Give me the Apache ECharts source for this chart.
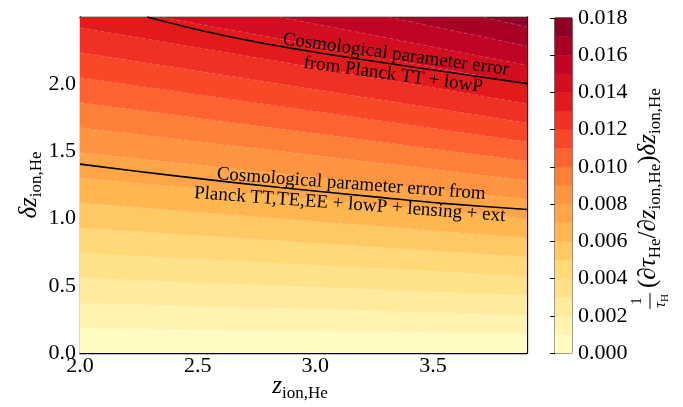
<!DOCTYPE html>
<html><head><meta charset="utf-8">
<script src="https://cdn.jsdelivr.net/npm/echarts@6/dist/echarts.min.js"></script>
<style>html,body{margin:0;padding:0;background:#fff}#c{width:683px;height:407px}</style>
</head><body><div id="c"></div>
<script>
// ---- data ----
const levelValues = [0.000,0.001,0.002,0.003,0.004,0.005,0.006,0.007,0.008,0.009,0.010,0.011,0.012,0.013,0.014,0.015,0.016,0.017,0.018];
const zEdges = [2.0, 3.9];
// dz_ion,He where each contour level crosses z = 2.0 and z = 3.9
const boundaryDzAtZ2  = [0, 0.186, 0.372, 0.558, 0.743, 0.931, 1.117, 1.302, 1.490, 1.676, 1.862, 2.048, 2.235, 2.420, 2.610, 2.790, 2.980, 3.160, 3.350];
const boundaryDzAtZ39 = [0, 0.143, 0.285, 0.428, 0.571, 0.714, 0.856, 0.999, 1.142, 1.284, 1.427, 1.570, 1.712, 1.855, 1.998, 2.141, 2.283, 2.426, 2.569];
// Planck TT + lowP error curve
const planckTTz  = [2.285, 2.510, 2.680, 2.808, 3.020, 3.211, 3.530, 3.900];
const planckTTdz = [2.500, 2.401, 2.338, 2.295, 2.232, 2.180, 2.098, 2.004];
// Planck TT,TE,EE + lowP + lensing + ext error curve
const planckAllZ  = [2.0, 2.425, 2.85, 3.275, 3.53, 3.9];
const planckAllDz = [1.405, 1.314, 1.231, 1.158, 1.115, 1.068];
const xTickValues = [2.0, 2.5, 3.0, 3.5];
const yTickValues = [0.0, 0.5, 1.0, 1.5, 2.0];
const cbTickValues = [0.000,0.002,0.004,0.006,0.008,0.010,0.012,0.014,0.016,0.018];
const labelTT = ['Cosmological parameter error', 'from Planck TT + lowP'];
const labelAll = ['Cosmological parameter error from', 'Planck TT,TE,EE + lowP + lensing + ext'];

// ---- styling ----
const FONT = 'Liberation Serif';
const ylorrd = ['#ffffcc','#ffeda0','#fed976','#feb24c','#fd8d3c','#fc4e2a','#e31a1c','#bd0026','#800026'];
function hex(c){return [1,3,5].map(i=>parseInt(c.substr(i,2),16));}
function cmap(t){
  const p = t*(ylorrd.length-1), i = Math.min(Math.floor(p), ylorrd.length-2), f = p-i;
  const a = hex(ylorrd[i]), b = hex(ylorrd[i+1]);
  return 'rgb('+a.map((v,j)=>Math.round(v+(b[j]-v)*f)).join(',')+')';
}
const nBands = levelValues.length-1;
const bandIdx = []; for (let k=0;k<nBands;k++) bandIdx.push([k]);
const bandColors = bandIdx.map(([k])=>cmap((k+0.5)/nBands));
const boundaryIdx = []; for (let k=1;k<nBands;k++) boundaryIdx.push([k]);

const richMain = {
  n:{fontFamily:FONT,fontSize:25,lineHeight:32,fill:'#000',verticalAlign:'middle'},
  i:{fontFamily:FONT,fontStyle:'italic',fontSize:25,lineHeight:32,fill:'#000',verticalAlign:'middle'},
  s:{fontFamily:FONT,fontSize:17,lineHeight:16,fill:'#000',verticalAlign:'bottom'}
};
const richSmall = {
  i:{fontFamily:FONT,fontStyle:'italic',fontSize:16,lineHeight:20,fill:'#000',verticalAlign:'middle'},
  s:{fontFamily:FONT,fontSize:11,lineHeight:10,fill:'#000',verticalAlign:'bottom'}
};
const tickRich = {t:{fontFamily:FONT, fontSize:22, color:'#000'}};

const chart = echarts.init(document.getElementById('c'), null, {renderer:'canvas'});
const axisLine = {show:true, onZero:false, lineStyle:{color:'#000', width:1.3}};
const tick = {show:true, inside:true, length:10, lineStyle:{color:'#000', width:1}};
const lab = {fontFamily:FONT, fontSize:22, color:'#000', rich:tickRich};
chart.setOption({
  animation:false,
  backgroundColor:'#fff',
  textStyle:{fontFamily:FONT},
  grid:[
    {left:80, top:17, width:447, height:336},
    {left:555, top:18, width:17, height:335, show:true, borderColor:'#000', borderWidth:1, backgroundColor:'transparent'}
  ],
  xAxis:[
    {type:'value', gridIndex:0, min:2.0, max:3.9, interval:0.5, position:'bottom', axisLine, axisTick:tick, splitLine:{show:false},
     axisLabel:{...lab, margin:2, formatter:v=>xTickValues.some(t=>Math.abs(t-v)<1e-6)?'{t|'+v.toFixed(1)+'}':''}},
    {type:'value', gridIndex:0, min:2.0, max:3.9, interval:0.5, position:'top', axisLine, axisTick:tick, splitLine:{show:false}, axisLabel:{show:false}},
    {type:'value', gridIndex:1, min:0, max:1, show:false}
  ],
  yAxis:[
    {type:'value', gridIndex:0, min:0, max:2.5, interval:0.5, position:'left', axisLine, axisTick:tick, splitLine:{show:false},
     axisLabel:{...lab, margin:4, formatter:v=>yTickValues.some(t=>Math.abs(t-v)<1e-6)?'{t|'+v.toFixed(1)+'}':''}},
    {type:'value', gridIndex:0, min:0, max:2.5, interval:0.5, position:'right', axisLine, axisTick:tick, splitLine:{show:false}, axisLabel:{show:false}},
    {type:'value', gridIndex:1, min:0, max:0.018, interval:0.002, position:'right', axisLine:{show:false},
     axisTick:{show:true, inside:true, length:5, lineStyle:{color:'#000', width:1}}, splitLine:{show:false},
     axisLabel:{...lab, margin:6, formatter:v=>'{t|'+v.toFixed(3)+'}'}}
  ],
  series:[
    {type:'custom', xAxisIndex:0, yAxisIndex:0, clip:true, data:bandIdx, silent:true,
     renderItem:(params, api)=>{
       const k = api.value(0);
       const pts = [
         api.coord([zEdges[0], boundaryDzAtZ2[k]]),
         api.coord([zEdges[1], boundaryDzAtZ39[k]]),
         api.coord([zEdges[1], boundaryDzAtZ39[k+1]]),
         api.coord([zEdges[0], boundaryDzAtZ2[k+1]])
       ];
       return {type:'polygon', shape:{points:pts}, style:{fill:bandColors[k], stroke:bandColors[k], lineWidth:0.6}};
     }},
    {type:'custom', xAxisIndex:0, yAxisIndex:0, clip:true, data:boundaryIdx, silent:true, z:3,
     renderItem:(params, api)=>{
       const k = api.value(0);
       const a = api.coord([zEdges[0], boundaryDzAtZ2[k]]), b = api.coord([zEdges[1], boundaryDzAtZ39[k]]);
       return {type:'line', shape:{x1:a[0],y1:a[1],x2:b[0],y2:b[1]}, style:{stroke:'rgba(255,255,255,0.3)', lineWidth:0.7, lineDash:[4,3]}};
     }},
    {type:'line', xAxisIndex:0, yAxisIndex:0, data:planckTTz.map((z,i)=>[z,planckTTdz[i]]), smooth:0.3, symbol:'none', z:5,
     lineStyle:{color:'#000', width:1.6}, clip:true},
    {type:'line', xAxisIndex:0, yAxisIndex:0, data:planckAllZ.map((z,i)=>[z,planckAllDz[i]]), smooth:0.3, symbol:'none', z:5,
     lineStyle:{color:'#000', width:1.6}, clip:true},
    {type:'custom', xAxisIndex:2, yAxisIndex:2, data:bandIdx, silent:true,
     renderItem:(params, api)=>{
       const k = api.value(0);
       const p0 = api.coord([0, levelValues[k+1]]), p1 = api.coord([1, levelValues[k]]);
       return {type:'rect', shape:{x:p0[0], y:p0[1], width:p1[0]-p0[0], height:p1[1]-p0[1]}, style:{fill:bandColors[k], stroke:bandColors[k], lineWidth:0.5}};
     }}
  ],
  graphic:[
    {type:'text', x:394.5, y:64.7, rotation:-0.135, z:10,
     style:{text:labelTT.join('\n'), font:'19px "Liberation Serif"', fill:'#000', align:'center', verticalAlign:'middle', lineHeight:20.5}},
    {type:'text', x:350.5, y:194.3, rotation:-0.074, z:10,
     style:{text:labelAll.join('\n'), font:'19px "Liberation Serif"', fill:'#000', align:'center', verticalAlign:'middle', lineHeight:20.5}},
    {type:'text', x:300, y:386, z:10,
     style:{text:'{i|z}{s|ion,He}', rich:richMain, align:'center', verticalAlign:'middle'}},
    {type:'group', x:29, y:185, rotation:Math.PI/2, z:10, children:[
      {type:'text', x:0, y:0, style:{text:'{i|δz}{s|ion,He}', rich:richMain, align:'center', verticalAlign:'middle'}}
    ]},
    {type:'group', x:648, y:187, rotation:Math.PI/2, z:10, children:[
      {type:'text', x:-101, y:0, style:{text:'{n|(}{i|∂τ}{s|He}{n|/}{i|∂z}{s|ion,He}{n|)}{i|δz}{s|ion,He}', rich:richMain, align:'left', verticalAlign:'middle'}},
      {type:'text', x:-114, y:-10.5, style:{text:'1', font:'15px "Liberation Serif"', fill:'#000', align:'center', verticalAlign:'middle'}},
      {type:'line', shape:{x1:-122, y1:2, x2:-106, y2:2}, style:{stroke:'#000', lineWidth:1}},
      {type:'text', x:-114, y:13, style:{text:'{i|τ}{s|H}', rich:richSmall, align:'center', verticalAlign:'middle'}}
    ]}
  ]
});
</script></body></html>
